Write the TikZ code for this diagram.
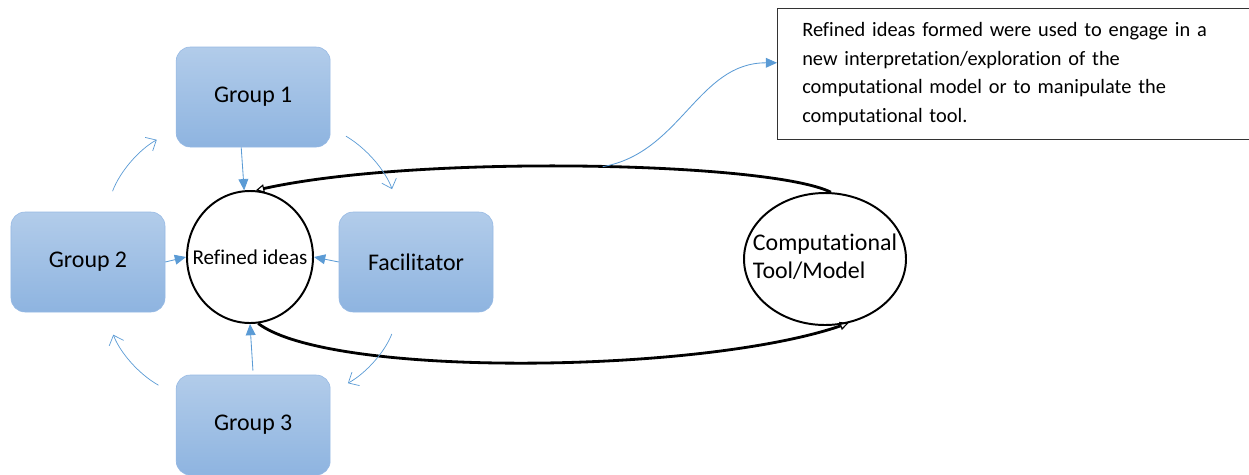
\documentclass[tikz,border=0pt]{standalone}
\usepackage{fontspec}
\setmainfont{Carlito}[Ligatures=NoCommon]
\usetikzlibrary{shapes.geometric,arrows.meta,positioning,calc}
\definecolor{cajaarriba}{RGB}{178,204,234}
\definecolor{cajaabajo}{RGB}{142,180,224}
\definecolor{cajaborde}{RGB}{150,185,228}
\definecolor{flechaazul}{RGB}{91,155,213}
\tikzstyle{grupo} = [rectangle, rounded corners=0.35cm, minimum width=3.85cm, minimum height=2.5cm, text centered, draw=cajaborde, top color=cajaarriba, bottom color=cajaabajo, font=\fontsize{17}{20}\selectfont]
\tikzstyle{idea} = [ellipse, draw=black, line width=1.4pt, minimum width=3.15cm, minimum height=3.3cm, inner sep=0pt, fill=white, font=\fontsize{15}{18}\selectfont]
\tikzstyle{modelo} = [ellipse, draw=black, line width=1.4pt, minimum width=4.05cm, minimum height=3.3cm, inner sep=0pt, fill=white, font=\fontsize{17}{20}\selectfont]
\tikzstyle{nota} = [rectangle, draw=black!80, text width=11.5cm, inner xsep=0.625cm, inner ysep=0.36cm, align=left, font=\fontsize{14.5}{20.2}\selectfont]
\tikzstyle{flecha} = [flechaazul, line width=0.6pt, -{Triangle[length=8pt,width=7pt]}]
\tikzstyle{ciclo} = [flechaazul, line width=0.5pt, -{Straight Barb[length=6pt,width=11pt]}]
\tikzstyle{lazo} = [black, line width=2pt, -{Triangle[open,length=6pt,width=6pt,line width=0.8pt]}]

\begin{document}
\begin{tikzpicture}[node distance=4cm, auto]
	\useasboundingbox (0,0) rectangle (31.225,-11.85);
	% Nodos
	\node (ideas) [idea] at (6.25,-6.425) {\makebox[0pt]{Refined ideas}};
	\node (grupo1) [grupo, above of=ideas, xshift=0.08cm] {Group 1};
	\node (grupo2) [grupo, left of=ideas, xshift=-0.05cm, yshift=-0.125cm] {Group 2};
	\node (grupo3) [grupo, below of=ideas, xshift=0.08cm, yshift=-0.2cm] {Group 3};
	\node (facil) [grupo, right of=ideas, xshift=0.15cm, yshift=-0.125cm] {Facilitator};
	\node (modelo) [modelo, right of=facil, xshift=6.225cm, yshift=0.075cm] {\makebox[0pt]{\begin{tabular}{@{}l@{}}Computational\\Tool/Model\end{tabular}}};
	\node (nota) [nota, anchor=north west] at (19.425,-0.2) {Refined ideas formed were used to engage in a\\new interpretation/exploration of the\\computational model or to manipulate the\\computational tool.};
	% Lazo
	\draw[lazo] (modelo.85) .. controls (19.25,-4.05) and (10.5,-3.85) .. (ideas.85) coordinate[pos=0.47] (salida);
	\draw[lazo] (ideas.-83) .. controls (8.25,-9.45) and (17.5,-9.35) .. (modelo.-70);
	% Flechas
	\draw[flecha] (salida) to[out=10,in=180] ([yshift=0.28cm]nota.west);
	\draw[flecha] ([xshift=-0.3cm]grupo1.south) -- (ideas.95);
	\draw[flecha] (grupo2.east) -- (ideas.west);
	\draw[flecha] (facil.west) -- (ideas.east);
	\draw[flecha, shorten <=3pt] (grupo3.north) -- (ideas.south);
	\draw[ciclo, shorten <=0.55cm, shorten >=0.55cm] ([xshift=0.42cm]grupo2.north) to[bend left=20] ([yshift=-0.8cm]grupo1.west);
	\draw[ciclo, shorten <=0.45cm, shorten >=0.6cm] ([yshift=-0.75cm]grupo1.east) to[bend left=20] ([xshift=-0.4cm]facil.north);
	\draw[ciclo, shorten <=0.58cm, shorten >=0.5cm] ([xshift=-0.4cm]facil.south) to[bend left=20] ([yshift=0.8cm]grupo3.east);
	\draw[ciclo, shorten <=0.5cm, shorten >=0.6cm] ([yshift=0.75cm]grupo3.west) to[bend left=20] ([xshift=0.42cm]grupo2.south);
\end{tikzpicture}
\end{document}
